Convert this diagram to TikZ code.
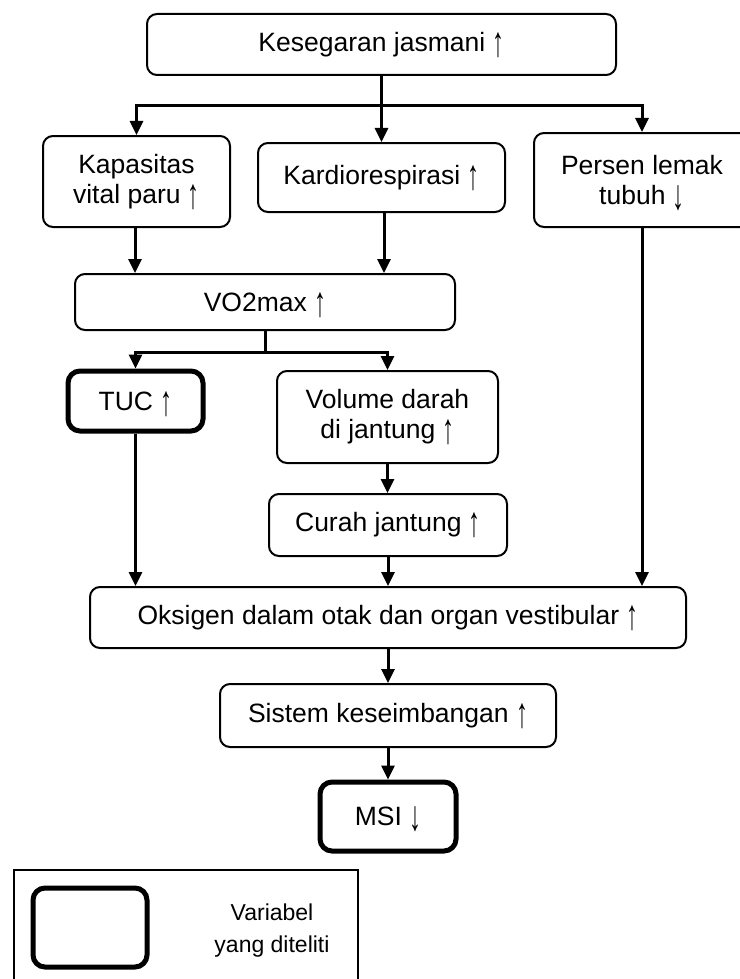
\documentclass[tikz,border=0pt]{standalone}
\usepackage{fontspec}
\usepackage{graphicx}
\setmainfont{Liberation Sans}
\usetikzlibrary{arrows.meta}
\newcommand\myup{\smash{\raisebox{-5pt}{\scalebox{0.9}[1.6]{↑}}}}
\newcommand\mydown{\smash{\raisebox{-5pt}{\scalebox{0.9}[1.6]{↓}}}}
\tikzset{
  box/.style={draw, line width=2pt, rounded corners=10pt, inner sep=0pt, align=center,
    font=\fontsize{26.5}{30}\selectfont},
  thickbox/.style={box, line width=5pt, rounded corners=12pt},
  conn/.style={line width=3pt},
  arr/.style={conn, -{Triangle[length=14pt,width=13pt]}},
}
\begin{document}
\begin{tikzpicture}[x=1pt,y=-1pt]
\useasboundingbox (0,0) rectangle (739,979);
\node[box, minimum width=469pt, minimum height=61pt] (top) at (381.5,44.5) {Kesegaran jasmani \myup};
\node[box, minimum width=187pt, minimum height=91pt] (kap) at (136.5,181.5) {Kapasitas\\vital paru \myup};
\node[box, minimum width=247pt, minimum height=69pt] (kar) at (381.5,177.5) {Kardiorespirasi \myup};
\node[box, minimum width=216pt, minimum height=94pt] (per) at (642,180) {Persen lemak\\tubuh \mydown};
\node[box, minimum width=380pt, minimum height=56pt] (vo2) at (265,302) {VO2max \myup};
\node[thickbox, minimum width=135pt, minimum height=60pt] (tuc) at (135.5,401) {TUC \myup};
\node[box, minimum width=221pt, minimum height=92pt] (vol) at (387.5,417) {Volume darah\\di jantung \myup};
\node[box, minimum width=238pt, minimum height=62pt] (cur) at (388,525) {Curah jantung \myup};
\node[box, minimum width=596pt, minimum height=61pt] (oks) at (388,617.5) {Oksigen dalam otak dan organ vestibular \myup};
\node[box, minimum width=336pt, minimum height=63pt] (sis) at (388,715.5) {Sistem keseimbangan \myup};
\node[thickbox, minimum width=136pt, minimum height=69pt] (msi) at (388,816.5) {MSI \mydown};
% legend
\draw[line width=2pt] (14,870) rectangle (358,995);
\node[thickbox, minimum width=114pt, minimum height=79pt] (leg) at (90,927.5) {};
\node[align=center, inner sep=0pt, font=\fontsize{23}{32}\selectfont] (legtext) at (272,931) {Variabel\\yang diteliti};
% connectors
\coordinate (j1) at (381.5,106);
\coordinate (j2) at (265,352);
\draw[conn] (top.south) -- (j1);
\draw[arr] (j1) -| (kap.north);
\draw[arr] (j1) -| (per.north);
\draw[arr] (top.south) -- (kar.north);
\draw[arr] ([xshift=-1.5pt]kap.south) -- ([xshift=-1.5pt]kap.south |- vo2.north);
\draw[arr] ([xshift=2.5pt]kar.south) -- ([xshift=2.5pt]kar.south |- vo2.north);
\draw[conn] (vo2.south) -- (j2);
\draw[arr] (j2) -| (tuc.north);
\draw[arr] (j2) -| (vol.north);
\draw[arr] (vol.south) -- (vol.south |- cur.north);
\draw[arr] (cur.south) -- (cur.south |- oks.north);
\draw[arr] (tuc.south) -- (tuc.south |- oks.north);
\draw[arr] (per.south) -- (per.south |- oks.north);
\draw[arr] (oks.south) -- (sis.north);
\draw[arr] (sis.south) -- (msi.north);
\end{tikzpicture}
\end{document}
